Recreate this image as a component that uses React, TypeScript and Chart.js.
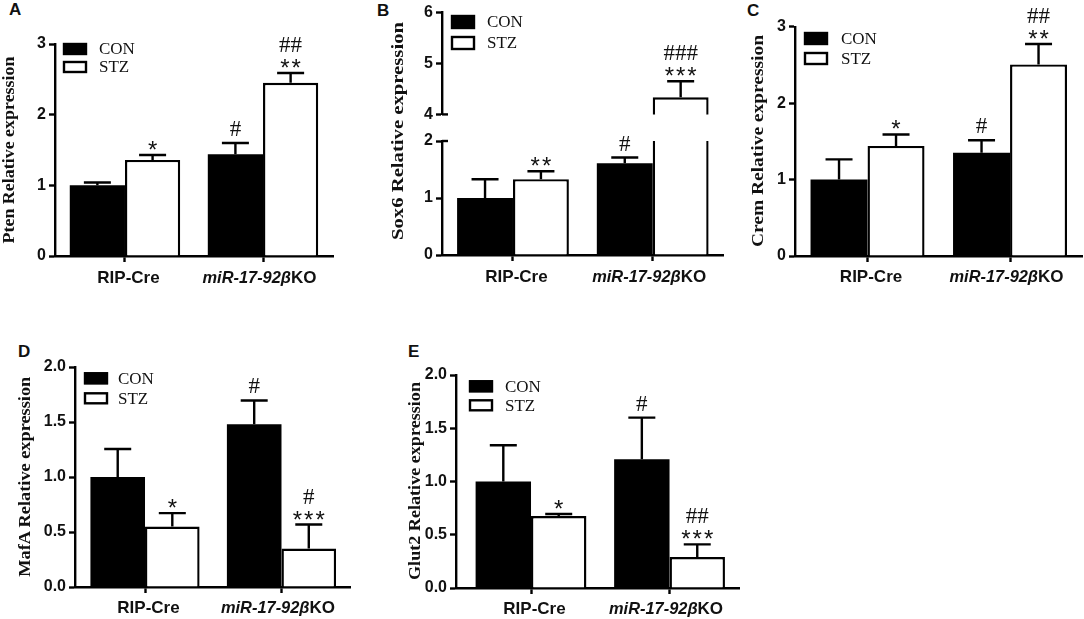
import { useEffect, useRef } from "react";
import Chart from "chart.js/auto";

const categories = ["RIP-Cre", "miR-17-92βKO"];
const seriesNames = ["CON", "STZ"];

// bar heights, the top of each error bar, and the significance marks (lowest line first)
const ptenCon = [1.0, 1.44];
const ptenStz = [1.36, 2.45];
const ptenConErr = [1.04, 1.6];
const ptenStzErr = [1.43, 2.59];
const ptenConMarks = [[], ["#"]];
const ptenStzMarks = [["*"], ["**", "##"]];

const sox6Con = [1.0, 1.61];
const sox6Stz = [1.33, 4.335];
const sox6ConErr = [1.33, 1.71];
const sox6StzErr = [1.47, 4.65];
const sox6ConMarks = [[], ["#"]];
const sox6StzMarks = [["**"], ["***", "###"]];

const cremCon = [1.0, 1.35];
const cremStz = [1.44, 2.507];
const cremConErr = [1.264, 1.514];
const cremStzErr = [1.59, 2.773];
const cremConMarks = [[], ["#"]];
const cremStzMarks = [["*"], ["**", "##"]];

const mafaCon = [1.0, 1.48];
const mafaStz = [0.55, 0.35];
const mafaConErr = [1.255, 1.696];
const mafaStzErr = [0.672, 0.568];
const mafaConMarks = [[], ["#"]];
const mafaStzMarks = [["*"], ["***", "#"]];

const glut2Con = [1.0, 1.21];
const glut2Stz = [0.675, 0.29];
const glut2ConErr = [1.34, 1.6];
const glut2StzErr = [0.695, 0.41];
const glut2ConMarks = [[], ["#"]];
const glut2StzMarks = [["*"], ["***", "##"]];

const INK = "#000";
const LINE = 2.4;
const TICK_FONT = '"Liberation Sans"';
const SERIF_FONT = '"Liberation Serif"';

interface PanelProps {
  con: number[];
  stz: number[];
  conErr: number[];
  stzErr: number[];
  conMarks: string[][];
  stzMarks: string[][];
  yMin: number;
  yMax: number;
  step: number;
  decimals: number;
  xMin: number;
  xMax: number;
  // pixel box of the plot on the page
  left: number;
  spine: number;
  right: number;
  top: number;
  base: number;
  showXAxis?: boolean;
  legend?: { x: number; y: number; pitch: number; h: number; textX: number };
  breakTick?: number;
}

function decorations(p: PanelProps, originLeft: number, originTop: number) {
  return {
    id: "panelDecor",
    afterDatasetsDraw(chart: any) {
      const ctx = chart.ctx;
      const y = chart.scales.y;
      const x = chart.scales.x;
      ctx.save();

      // error bars and the marks above them
      [p.conErr, p.stzErr].forEach((errs, ds) => {
        const marks = ds === 0 ? p.conMarks : p.stzMarks;
        const meta = chart.getDatasetMeta(ds);
        errs.forEach((err, i) => {
          if (err > p.yMax || err < p.yMin) return;
          const bar = meta.data[i];
          const py = y.getPixelForValue(err);
          ctx.strokeStyle = INK;
          ctx.lineWidth = LINE;
          ctx.beginPath();
          ctx.moveTo(bar.x, bar.y);
          ctx.lineTo(bar.x, py);
          ctx.moveTo(bar.x - 13.5, py);
          ctx.lineTo(bar.x + 13.5, py);
          ctx.stroke();

          ctx.fillStyle = "#111";
          ctx.textAlign = "center";
          ctx.textBaseline = "alphabetic";
          marks[i].forEach((line, row) => {
            if (line[0] === "*") {
              ctx.font = `24px ${TICK_FONT}`;
              ctx.letterSpacing = "2px";
              ctx.fillText(line, bar.x + 1, py + 3);
              ctx.letterSpacing = "0px";
            } else {
              ctx.font = `23px ${SERIF_FONT}`;
              ctx.fillText(line, bar.x, py - (row === 0 ? 7 : 21));
            }
          });
        });
      });

      // break marks on the split axis
      if (p.breakTick !== undefined) {
        const py = y.getPixelForValue(p.breakTick);
        ctx.strokeStyle = INK;
        ctx.lineWidth = LINE;
        ctx.beginPath();
        ctx.moveTo(chart.chartArea.left, py);
        ctx.lineTo(chart.chartArea.left + 6, py);
        ctx.stroke();
      }

      // group names under the axis, the gene part of the name is italic
      if (p.showXAxis !== false) {
        ctx.fillStyle = "#111";
        ctx.textBaseline = "middle";
        ctx.textAlign = "left";
        categories.forEach((label, i) => {
          const cx = x.getPixelForValue(i) + (i === 0 ? 3.5 : -3.5);
          const py = p.base - originTop + 22;
          const parts = label.match(/^(.*β)(KO)$/);
          const head = parts ? parts[1] : label;
          const tail = parts ? parts[2] : "";
          const headFont = parts ? `italic bold 16.4px ${TICK_FONT}` : `bold 17px ${TICK_FONT}`;
          const tailFont = `bold 17px ${TICK_FONT}`;
          ctx.font = headFont;
          const headW = ctx.measureText(head).width;
          ctx.font = tailFont;
          const tailW = ctx.measureText(tail).width;
          const start = cx - (headW + tailW) / 2;
          ctx.font = headFont;
          ctx.fillText(head, start, py);
          ctx.font = tailFont;
          ctx.fillText(tail, start + headW, py);
        });
      }

      // legend keys
      if (p.legend) {
        const l = p.legend;
        seriesNames.forEach((name, i) => {
          const sy = l.y + i * l.pitch - originTop;
          ctx.fillStyle = i === 0 ? INK : "#fff";
          ctx.strokeStyle = INK;
          ctx.lineWidth = LINE;
          ctx.fillRect(l.x - originLeft, sy, 24, l.h);
          ctx.strokeRect(l.x - originLeft + 1, sy + 1, 22, l.h - 2);
          ctx.fillStyle = "#111";
          ctx.font = `17px ${SERIF_FONT}`;
          ctx.textAlign = "left";
          ctx.textBaseline = "middle";
          ctx.fillText(name, l.textX - originLeft, sy + l.h / 2 + 1);
        });
      }
      ctx.restore();
    },
  };
}

function Panel(p: PanelProps) {
  const canvasRef = useRef<HTMLCanvasElement | null>(null);
  const canvasTop = Math.max(0, p.top - 34);
  const showX = p.showXAxis !== false;
  const bottomRoom = showX ? 42 : 3;
  const width = Math.ceil(p.right - p.left + 2);
  const height = Math.ceil(p.base - canvasTop + bottomRoom);

  useEffect(() => {
    const ctx = canvasRef.current?.getContext("2d");
    if (!ctx) return;

    const chart = new Chart(ctx, {
      type: "bar",
      data: {
        labels: categories.map((_, i) => i) as any,
        datasets: [
          {
            label: seriesNames[0],
            data: p.con,
            backgroundColor: INK,
            borderWidth: 0,
          },
          {
            label: seriesNames[1],
            data: p.stz,
            backgroundColor: "#fff",
            borderColor: INK,
            borderWidth: LINE,
            borderSkipped: "bottom",
          },
        ],
      },
      options: {
        responsive: false,
        animation: false,
        devicePixelRatio: 1,
        layout: {
          padding: {
            left: 0,
            right: width - (p.right - p.left),
            top: p.top - canvasTop,
            bottom: showX ? 0 : bottomRoom,
          },
        },
        datasets: { bar: { categoryPercentage: 0.8, barPercentage: 1 } },
        plugins: { legend: { display: false }, tooltip: { enabled: false } },
        scales: {
          x: {
            type: "linear",
            display: showX,
            min: p.xMin,
            max: p.xMax,
            offset: false,
            grid: {
              offset: false,
              drawOnChartArea: false,
              tickLength: 6,
              tickWidth: LINE,
              tickColor: INK,
            },
            border: { color: INK, width: LINE },
            ticks: { display: false },
            afterBuildTicks: (scale: any) => {
              scale.ticks = categories.map((_, i) => ({ value: i }));
            },
            afterFit: (scale: any) => {
              scale.height = bottomRoom;
            },
          },
          y: {
            min: p.yMin,
            max: p.yMax,
            grid: {
              drawOnChartArea: false,
              tickLength: 6,
              tickWidth: LINE,
              tickColor: INK,
            },
            border: { color: INK, width: LINE },
            ticks: {
              stepSize: p.step,
              padding: 3,
              color: "#111",
              font: { family: TICK_FONT, weight: "bold", size: 16 },
              callback: (v: any) => Number(v).toFixed(p.decimals),
            },
            afterFit: (scale: any) => {
              scale.width = p.spine - p.left;
            },
          },
        },
      },
      plugins: [decorations(p, p.left, canvasTop)],
    } as any);

    return () => chart.destroy();
  }, []);

  return (
    <canvas
      ref={canvasRef}
      width={width}
      height={height}
      style={{ position: "absolute", left: p.left, top: canvasTop, width, height }}
    />
  );
}

const panelLetters = [
  { text: "A", x: 9, y: 0 },
  { text: "B", x: 377, y: 1 },
  { text: "C", x: 747, y: 1 },
  { text: "D", x: 18, y: 342 },
  { text: "E", x: 408, y: 342 },
];

// y axis titles: the source stretches them along the axis
const axisTitles = [
  { text: "Pten Relative expression", x: 14, y: 150, length: 187, size: 16.5 },
  { text: "Sox6 Relative expression", x: 403, y: 131, length: 218, size: 17 },
  { text: "Crem Relative expression", x: 763, y: 141, length: 212, size: 17 },
  { text: "MafA Relative expression", x: 30, y: 476.7, length: 200, size: 16.5 },
  { text: "Glut2 Relative expression", x: 420, y: 481, length: 198, size: 16.5 },
];

export default function App() {
  return (
    <div
      style={{
        position: "absolute",
        left: 0,
        top: 0,
        width: 1084,
        height: 619,
        background: "#fff",
        overflow: "hidden",
      }}
    >
      {panelLetters.map((l) => (
        <span
          key={l.text}
          style={{
            position: "absolute",
            left: l.x,
            top: l.y,
            font: `bold 17px ${TICK_FONT}`,
            color: "#111",
          }}
        >
          {l.text}
        </span>
      ))}

      <Panel
        con={ptenCon}
        stz={ptenStz}
        conErr={ptenConErr}
        stzErr={ptenStzErr}
        conMarks={ptenConMarks}
        stzMarks={ptenStzMarks}
        yMin={0}
        yMax={3}
        step={1}
        decimals={0}
        xMin={-0.507}
        xMax={1.507}
        left={20}
        spine={55}
        right={333}
        top={44}
        base={256}
        legend={{ x: 63, y: 43, pitch: 18, h: 12, textX: 99 }}
      />

      <Panel
        con={sox6Con}
        stz={sox6Stz}
        conErr={sox6ConErr}
        stzErr={sox6StzErr}
        conMarks={sox6ConMarks}
        stzMarks={sox6StzMarks}
        yMin={4}
        yMax={6}
        step={1}
        decimals={0}
        xMin={-0.508}
        xMax={1.503}
        left={410}
        spine={442}
        right={723}
        top={9.5}
        base={123.3}
        showXAxis={false}
        breakTick={4}
        legend={{ x: 451, y: 15, pitch: 21, h: 14, textX: 487 }}
      />
      <Panel
        con={sox6Con}
        stz={sox6Stz}
        conErr={sox6ConErr}
        stzErr={sox6StzErr}
        conMarks={sox6ConMarks}
        stzMarks={sox6StzMarks}
        yMin={0}
        yMax={2}
        step={1}
        decimals={0}
        xMin={-0.508}
        xMax={1.503}
        left={410}
        spine={442}
        right={723}
        top={141}
        base={255}
        breakTick={2}
      />

      <Panel
        con={cremCon}
        stz={cremStz}
        conErr={cremConErr}
        stzErr={cremStzErr}
        conMarks={cremConMarks}
        stzMarks={cremStzMarks}
        yMin={0}
        yMax={3}
        step={1}
        decimals={0}
        xMin={-0.509}
        xMax={1.505}
        left={770}
        spine={795}
        right={1082}
        top={26.7}
        base={255.3}
        legend={{ x: 804, y: 32, pitch: 20, h: 13, textX: 841 }}
      />

      <Panel
        con={mafaCon}
        stz={mafaStz}
        conErr={mafaConErr}
        stzErr={mafaStzErr}
        conMarks={mafaConMarks}
        stzMarks={mafaStzMarks}
        yMin={0}
        yMax={2}
        step={0.5}
        decimals={1}
        xMin={-0.513}
        xMax={1.502}
        left={35}
        spine={75}
        right={350}
        top={366.7}
        base={586}
        legend={{ x: 84, y: 372, pitch: 20, h: 12, textX: 118 }}
      />

      <Panel
        con={glut2Con}
        stz={glut2Stz}
        conErr={glut2ConErr}
        stzErr={glut2StzErr}
        conMarks={glut2ConMarks}
        stzMarks={glut2StzMarks}
        yMin={0}
        yMax={2}
        step={0.5}
        decimals={1}
        xMin={-0.5415}
        xMax={1.505}
        left={425}
        spine={456}
        right={739.5}
        top={374.7}
        base={587.3}
        legend={{ x: 469, y: 380, pitch: 19, h: 12, textX: 505 }}
      />

      <svg
        width={1084}
        height={619}
        style={{ position: "absolute", left: 0, top: 0, pointerEvents: "none" }}
      >
        {axisTitles.map((t) => (
          <text
            key={t.text}
            x={t.x}
            y={t.y}
            transform={`rotate(-90 ${t.x} ${t.y})`}
            textAnchor="middle"
            textLength={t.length}
            lengthAdjust="spacingAndGlyphs"
            fontFamily={SERIF_FONT}
            fontWeight="bold"
            fontSize={t.size}
            fill="#111"
          >
            {t.text}
          </text>
        ))}
      </svg>
    </div>
  );
}
